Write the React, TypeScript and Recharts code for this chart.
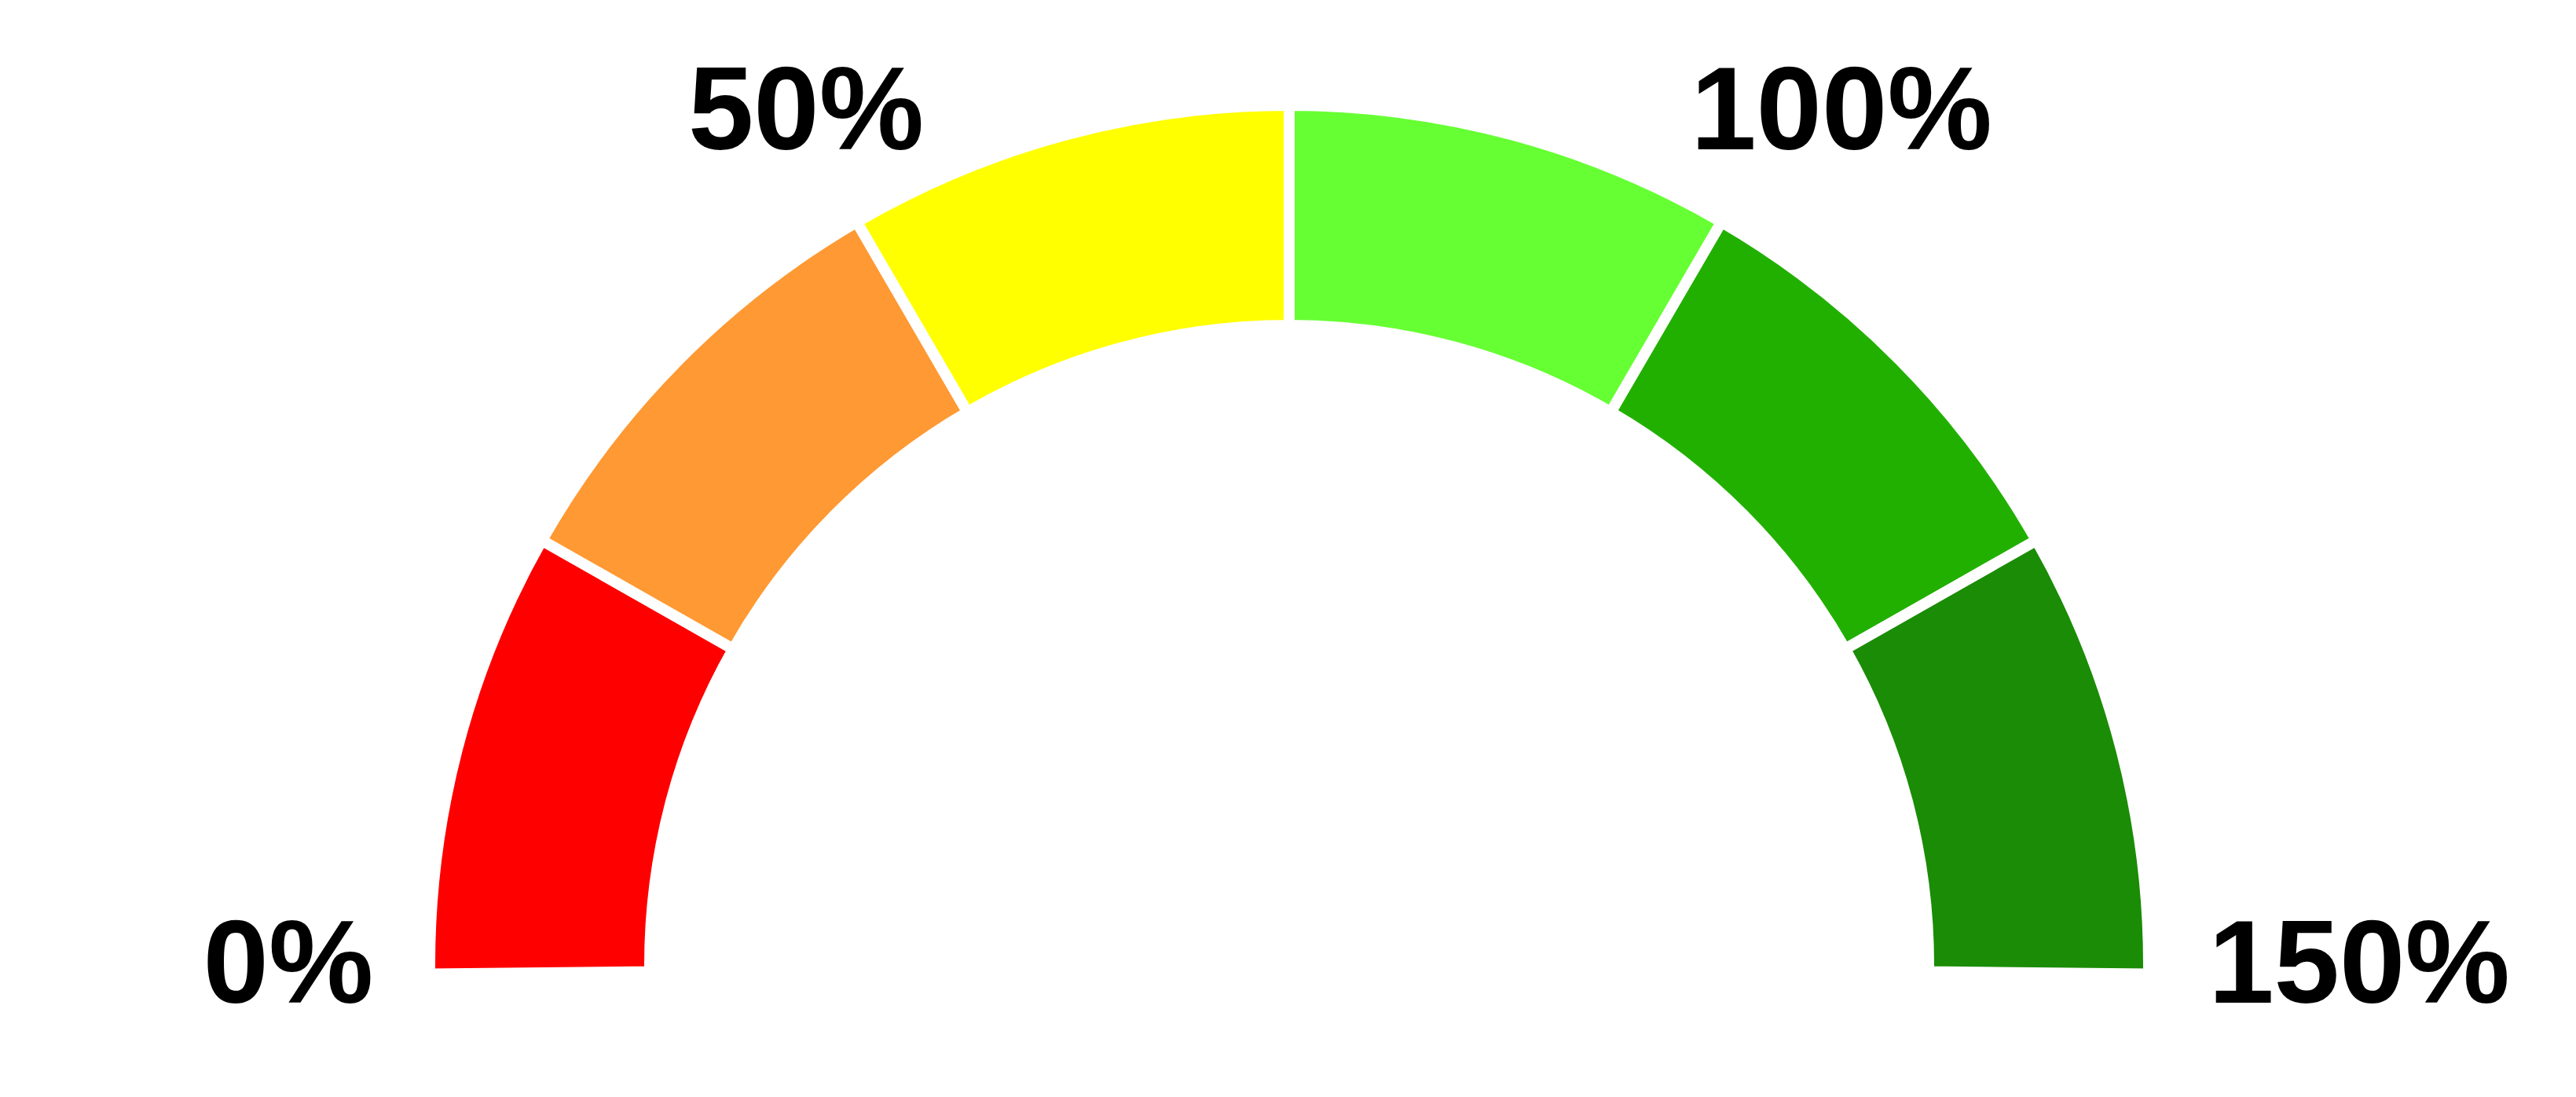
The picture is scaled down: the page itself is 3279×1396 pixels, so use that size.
import React from "react";
import { PieChart, Pie, Cell } from "recharts";

// gauge bands, 0% .. 150% in six equal steps
const bandNames = ["0-25", "25-50", "50-75", "75-100", "100-125", "125-150"];
const bandValues = [25, 25, 25, 25, 25, 25];
const bandColors = ["#FF0000", "#FF9933", "#FFFF00", "#66FF33", "#22B000", "#1A8C05"];

const tickValues = [0, 50, 100, 150];
const tickLabels = ["0%", "50%", "100%", "150%"];

const WIDTH = 3279;
const HEIGHT = 1396;
const CX = 1641;
const CY = 1228;
const MAX = 150;
// white separators eat half the stroke on every edge, so the ends are pushed a little past the horizon
const END_PAD = 0.6;

const data = bandNames.map((name, i) => ({ name, value: bandValues[i] }));

function valueToAngle(v: number) {
  return 180 - (v / MAX) * 180;
}

function GaugeTicks() {
  const rx = 1318;
  const ry = 1254;
  return (
    <g>
      {tickValues.map((v, i) => {
        const a = (valueToAngle(v) * Math.PI) / 180;
        const x = CX + 44 + rx * Math.cos(a);
        const y = CY - ry * Math.sin(a);
        return (
          <text
            key={tickLabels[i]}
            x={x}
            y={y}
            dy="0.32em"
            textAnchor="middle"
            style={{ fontFamily: "'Liberation Sans', Arial, sans-serif", fontWeight: 700, fontSize: 150 }}
            fill="#000"
          >
            {tickLabels[i]}
          </text>
        );
      })}
    </g>
  );
}

export default function App() {
  return (
    <div style={{ position: "absolute", left: 0, top: 0, width: WIDTH, height: HEIGHT, background: "#fff" }}>
      <PieChart width={WIDTH} height={HEIGHT} margin={{ top: 0, right: 0, bottom: 0, left: 0 }}>
        <Pie
          data={data}
          dataKey="value"
          nameKey="name"
          cx={CX}
          cy={CY}
          startAngle={180 + END_PAD}
          endAngle={-END_PAD}
          innerRadius={814}
          outerRadius={1094}
          stroke="#ffffff"
          strokeWidth={14}
          isAnimationActive={false}
        >
          {data.map((d, i) => (
            <Cell key={d.name} fill={bandColors[i]} />
          ))}
        </Pie>
        <GaugeTicks />
      </PieChart>
    </div>
  );
}
